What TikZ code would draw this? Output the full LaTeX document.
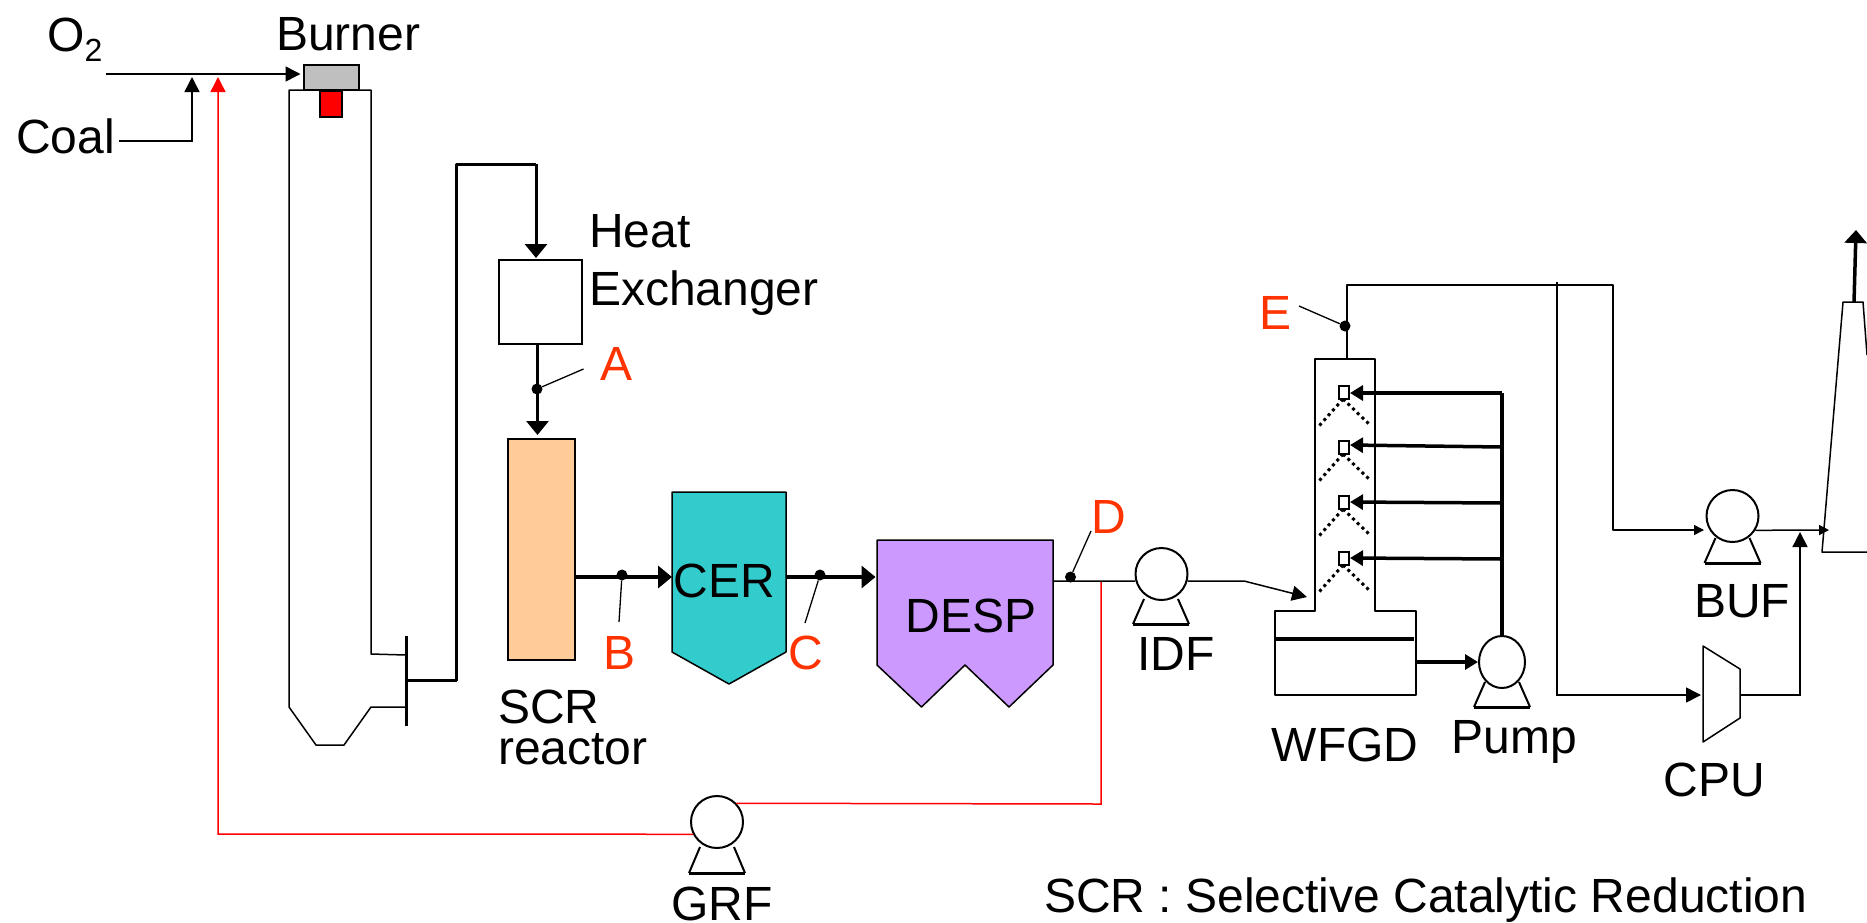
\documentclass[tikz,border=0pt]{standalone}
\usepackage{fontspec}
\setmainfont{Liberation Sans}
\usetikzlibrary{arrows.meta,calc,shapes.geometric}
\tikzset{
  x=1pt,y=-1pt,
  lab/.style={inner sep=0pt,anchor=base west,font=\fontsize{48}{50}\selectfont,text=black},
  labc/.style={inner sep=0pt,anchor=base,font=\fontsize{48}{50}\selectfont,text=black},
  pt/.style={inner sep=0pt,anchor=base,font=\fontsize{48}{50}\selectfont,text=letter},
  thin1/.style={line width=1.5pt,draw=black},
  thick1/.style={line width=3pt,draw=black},
  thick2/.style={line width=3.5pt,draw=black},
  redl/.style={line width=1.5pt,draw=redline},
  tip/.style={-{Triangle[length=15pt,width=15pt]}},
  tipS/.style={-{Triangle[length=10pt,width=10pt]}},
  tipB/.style={-{Triangle[length=14pt,width=22pt]}},
  tipN/.style={-{Triangle[length=13pt,width=15pt]}},
  box/.style={draw=black,line width=1.5pt,inner sep=0pt,anchor=north west},
  fan/.style={circle,draw=black,line width=2pt,fill=white,inner sep=0pt,minimum size=52pt},
  dotn/.style={circle,fill=black,inner sep=0pt,minimum size=11pt},
  leader/.style={line width=1.3pt,draw=black},
  nozzle/.style={draw=black,line width=2pt,fill=white,inner sep=0pt,minimum width=10pt,minimum height=13pt},
  spray/.style={line width=3pt,draw=black,dash pattern=on 3pt off 3.5pt},
}
\definecolor{letter}{HTML}{FF3300}
\definecolor{redline}{HTML}{FF0000}
\definecolor{grayb}{HTML}{BFBFBF}
\definecolor{scrc}{HTML}{FFCC99}
\definecolor{cerc}{HTML}{33CCCC}
\definecolor{despc}{HTML}{CC99FF}
\begin{document}
\begin{tikzpicture}
\useasboundingbox (0,0) rectangle (1867,922);
\fill[white] (0,0) rectangle (1867,922);

% texts
\node[lab] (o2) at (47,51) {O\raisebox{-0.22em}{\fontsize{32}{34}\selectfont 2}};
\node[lab] (burnerT) at (276,50) {Burner};
\node[lab] (coalT) at (16,153) {Coal};
\node[lab] (heatT) at (589,247) {Heat};
\node[lab] (exT) at (589,305) {Exchanger};
\node[lab,align=left,font=\fontsize{48}{41}\selectfont] (scrT) at (498,764) {SCR\\reactor};
\node[labc] (grfT) at (722,920) {GRF};
\node[labc] (idfT) at (1176,670) {IDF};
\node[labc] (wfgdT) at (1345,761) {WFGD};
\node[labc] (pumpT) at (1514,753) {Pump};
\node[labc] (bufT) at (1742,617) {BUF};
\node[labc] (cpuT) at (1714,796) {CPU};
\node[lab] (noteT) at (1044,912) {SCR : Selective Catalytic Reduction};

% furnace
\coordinate (fTL) at (289,90);
\coordinate (fTR) at (371,90);
\coordinate (fBarTop) at (406,636);
\coordinate (fBarBot) at (406,726);
\coordinate (fBarMid) at (406,680);
\draw[thin1,line join=round] (406,707) -- (371,707) -- (344,745) -- (316,745) -- (289,707) -- (fTL) -- (fTR) -- (371,654) -- (406,655);
\draw[line width=3pt] (fBarTop) -- (fBarBot);
\node[box,fill=grayb,minimum width=55pt,minimum height=25pt] (burner) at (303,64) {};
\node[box,fill=redline,minimum width=22pt,minimum height=26pt] (redbox) at (319,90) {};

% O2, coal, recycle
\coordinate (o2s) at (106,74);
\coordinate (coals) at (119,141);
\coordinate (coalc) at (192,141);
\coordinate (coale) at (192,77);
\draw[thin1,tip] (o2s) -- (300.5,74);
\draw[thin1,tip] (coals) -- (coalc) -- (coale);

% heat exchanger
\node[box,minimum width=83pt,minimum height=84pt] (hx) at (498,259) {};
\draw[thick1,line join=round] (fBarMid) -- (456,680) -- (456,164) -- (536,164);
\draw[thick1,tipB] (536,164) -- (536,258);

% SCR
\node[box,fill=scrc,minimum width=67pt,minimum height=221pt] (scr) at (507,438) {};
\coordinate (hxout) at (537.5,345);
\draw[thick1,tipB] (hxout) -- (537.5,435);
\node[dotn] (dotA) at (537,389) {};
\coordinate (leadA) at (583.5,369);
\draw[leader] (dotA) -- (leadA);
\node[pt] (A) at (616,380) {A};

% CER
\draw[thin1,fill=cerc,line join=round] (672,492) -- (786,492) -- (786,652) -- (729,684) -- (672,652) -- cycle;
\node[labc] (cerT) at (724.5,597) {CER};
\coordinate (cerW) at (672,577);
\coordinate (cerE) at (786,577);
\draw[line width=4pt,tipB] (574,577) -- (cerW);
\node[dotn] (dotB) at (622,575) {};
\coordinate (leadB) at (619,622);
\draw[leader] (dotB) -- (leadB);
\node[pt] (B) at (619,669) {B};

% DESP
\draw[thin1,fill=despc,line join=round] (877,540) -- (1053,540) -- (1053,665) -- (1009,707) -- (965,665) -- (921.5,707) -- (877,665) -- cycle;
\node[labc] (despT) at (971,632) {DESP};
\coordinate (despW) at (875.5,577);
\draw[line width=4pt,tipB] (cerE) -- (despW);
\node[dotn] (dotC) at (820,575) {};
\coordinate (leadC) at (805,623);
\draw[leader] (dotC) -- (leadC);
\node[pt] (C) at (806,669) {C};

% fans
\newcommand{\fanlegs}[3]{% cx, top y, base y
  \draw[thin1,line width=2pt] (#1-17,#2) -- (#1-28,#3);
  \draw[thin1,line width=2pt] (#1+17,#2) -- (#1+28,#3);
  \draw[line width=3pt] (#1-28,#3) -- (#1+28,#3);}

% recycle (red)
\node[fan] (grf) at (717,822) {};
\fanlegs{717}{847}{873}
\coordinate (rj) at (1101,581);
\coordinate (rc) at (1101,804);
\draw[redl] (rj) -- (rc) -- (grf.44);
\draw[redl,tip] (grf.207) -- (218,834) -- (218,77);

% IDF
\node[fan] (idf) at (1161.5,574) {};
\fanlegs{1161}{599}{624}
\draw[thin1] (1053,581) -- (idf.195);
\node[dotn] (dotD) at (1070.5,577) {};
\coordinate (leadD) at (1091,531);
\draw[leader] (dotD) -- (leadD);
\node[pt] (D) at (1109,533) {D};
\coordinate (idfk) at (1244,581);
\coordinate (idfe) at (1307,597);
\draw[thin1,tip] (idf.-15) -- (idfk) -- (idfe);

% WFGD
\draw[thin1,line join=round] (1315,611) -- (1315,359) -- (1375,359) -- (1375,611) -- (1416,611) -- (1416,695) -- (1275,695) -- (1275,611) -- cycle;
\draw[line width=4pt] (1276,639) -- (1414,639);
\coordinate (wfgdtop) at (1347,359);

% pump
\node[ellipse,draw=black,line width=2pt,fill=white,inner sep=0pt,minimum width=46pt,minimum height=52pt] (pump) at (1502,662) {};
\fanlegs{1502}{682}{707}
\draw[thick2,tipN] (1417,662) -- (pump.west);
\coordinate (hdr) at (1502,393);
\draw[thick2,line join=round] (pump.north) -- (hdr);

% nozzles
\foreach \nm/\ny/\hy/\ty in {n1/392/393/393,n2/447/447/445,n3/502/503/502,n4/558/559/558}{
  \node[nozzle] (\nm) at (1343.5,\ny) {};
  \draw[thick2,tipN] (1502,\hy) -- (1350,\ty);
  \draw[spray] (1343,\ny+7) -- (1319,\ny+34);
  \draw[spray] (1343,\ny+7) -- (1370,\ny+33);
}

% E, gas lines
\coordinate (gasTL) at (1347,285);
\coordinate (gasTR) at (1613,285);
\coordinate (gasB) at (1613,530);
\draw[thin1,line join=round,tipS] (wfgdtop) -- (gasTL) -- (gasTR) -- (gasB) -- (1704,530);
\node[dotn] (dotE) at (1345,326) {};
\coordinate (leadE) at (1299,306);
\draw[leader] (dotE) -- (leadE);
\node[pt] (E) at (1275,329) {E};

% CPU branch
\coordinate (cpuIn) at (1557,695);
\draw[thin1,tip] (1557,282) -- (cpuIn) -- (1701,695);
\draw[thin1,fill=white,line join=round] (1703,646) -- (1740,669) -- (1740,718) -- (1703,742) -- cycle;

% BUF
\node[fan] (buf) at (1732.5,516) {};
\fanlegs{1732.5}{538}{563}
\draw[thin1,tipS] (buf.-32) -- (1829,530);
\draw[thin1,tip] (1740,695) -- (1800,695) -- (1800,532);

% stack
\draw[thin1,line join=round] (1867,552) -- (1822,552) -- (1843,302) -- (1863,302) -- (1867,355);
\draw[line width=3.5pt,-{Triangle[length=13pt,width=22pt]}] (1854,302) -- (1856,230);
\end{tikzpicture}
\end{document}
